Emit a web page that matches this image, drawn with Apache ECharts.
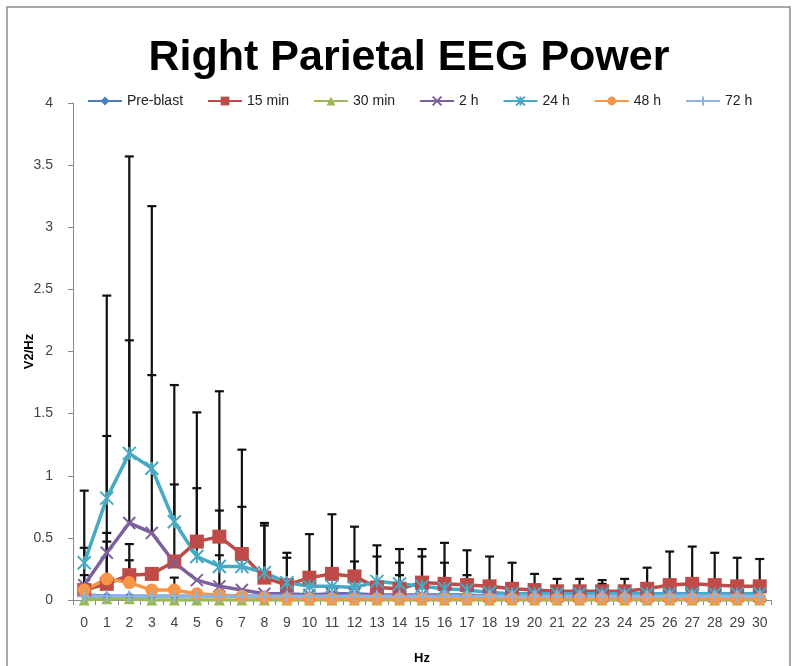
<!DOCTYPE html>
<html>
<head>
<meta charset="utf-8">
<title>Right Parietal EEG Power</title>
<script src="https://cdn.jsdelivr.net/npm/echarts@6/dist/echarts.min.js"></script>
<style>
	html, body { margin: 0; padding: 0; background: #fff; }
	#main { width: 798px; height: 666px; }
</style>
</head>
<body>
<div id="main"></div>
<script>
var hz = ['0', '1', '2', '3', '4', '5', '6', '7', '8', '9', '10', '11', '12', '13', '14', '15',
	'16', '17', '18', '19', '20', '21', '22', '23', '24', '25', '26', '27', '28', '29', '30'];
var yTicks = [0, 0.5, 1, 1.5, 2, 2.5, 3, 3.5, 4];

// mean values per group
var preBlast = [0.04, 0.03, 0.03, 0.03, 0.03, 0.03, 0.03, 0.03, 0.03, 0.03, 0.03, 0.03, 0.03, 0.03, 0.03, 0.03,
	0.03, 0.03, 0.03, 0.03, 0.03, 0.03, 0.03, 0.03, 0.03, 0.03, 0.03, 0.03, 0.03, 0.03, 0.03];
var min15 = [0.08, 0.13, 0.2, 0.21, 0.31, 0.47, 0.51, 0.37, 0.18, 0.12, 0.18, 0.21, 0.19, 0.1, 0.09, 0.14,
	0.13, 0.12, 0.11, 0.09, 0.08, 0.07, 0.07, 0.07, 0.07, 0.09, 0.12, 0.13, 0.12, 0.11, 0.11];
var min30 = [0.0, 0.01, 0.01, 0.0, 0.0, 0.0, 0.0, 0.0, 0.0, 0.0, 0.0, 0.0, 0.0, 0.0, 0.0, 0.0,
	0.0, 0.0, 0.0, 0.0, 0.0, 0.0, 0.0, 0.0, 0.0, 0.0, 0.0, 0.0, 0.0, 0.0, 0.0];
var h2 = [0.12, 0.38, 0.62, 0.54, 0.3, 0.16, 0.11, 0.08, 0.05, 0.05, 0.04, 0.05, 0.05, 0.04, 0.04, 0.04,
	0.04, 0.04, 0.03, 0.03, 0.03, 0.03, 0.03, 0.03, 0.03, 0.03, 0.03, 0.03, 0.03, 0.03, 0.03];
var h24 = [0.3, 0.82, 1.18, 1.06, 0.63, 0.35, 0.27, 0.27, 0.22, 0.14, 0.11, 0.11, 0.1, 0.15, 0.13, 0.11,
	0.09, 0.08, 0.06, 0.05, 0.05, 0.05, 0.05, 0.05, 0.05, 0.05, 0.05, 0.05, 0.05, 0.05, 0.05];
var h48 = [0.08, 0.17, 0.14, 0.08, 0.08, 0.05, 0.04, 0.03, 0.02, 0.01, 0.01, 0.01, 0.01, 0.01, 0.01, 0.01,
	0.01, 0.01, 0.01, 0.01, 0.01, 0.01, 0.01, 0.01, 0.01, 0.01, 0.01, 0.01, 0.01, 0.01, 0.01];
var h72 = [0.03, 0.03, 0.03, 0.03, 0.03, 0.03, 0.03, 0.03, 0.03, 0.03, 0.03, 0.03, 0.03, 0.03, 0.03, 0.03,
	0.03, 0.03, 0.03, 0.03, 0.03, 0.03, 0.03, 0.03, 0.03, 0.03, 0.03, 0.03, 0.03, 0.03, 0.03];

// upper ends of the error bars (null = no bar drawn)
var err15Top = [0.2, 0.47, 0.45, null, null, 1.51, 1.68, 1.21, 0.62, 0.38, 0.53, 0.69, 0.59, 0.44, 0.41, 0.41,
	0.46, 0.4, 0.35, 0.3, 0.21, 0.17, 0.17, 0.16, 0.17, 0.26, 0.39, 0.43, 0.38, 0.34, 0.33];
var err2hTop = [0.42, 1.32, 2.09, 1.81, 0.93, null, 0.36, null, null, null, null, null, null, null, 0.2, null,
	null, null, null, null, null, null, null, null, null, null, null, null, null, null, null];
var err24Top = [0.88, 2.45, 3.57, 3.17, 1.73, 0.9, 0.72, 0.75, 0.6, 0.34, null, null, 0.31, 0.35, 0.3, 0.35,
	0.3, 0.2, null, null, null, null, null, 0.13, null, null, null, null, null, null, null];
var err48Top = [null, 0.54, 0.32, null, 0.18, null, null, null, null, null, null, null, null, null, null, null,
	null, null, null, null, null, null, null, null, null, null, null, null, null, null, null];

var xPath = 'path://M0,0L10,10M10,0L0,10';
var starPath = 'path://M0,0L10,10M10,0L0,10M5,0L5,10';
var plusPath = 'path://M5,0L5,10M0,5L10,5';

function errData(mean, top) {
	var list = [];
	for (var i = 0; i < top.length; i++) {
		if (top[i] !== null) {
			list.push([i, mean[i], top[i]]);
		}
	}
	return list;
}

function renderErr(params, api) {
	var x = api.value(0);
	var p0 = api.coord([x, api.value(1)]);
	var p1 = api.coord([x, api.value(2)]);
	var cw = 4.5;
	return {
		type: 'group',
		children: [
			{ type: 'line', shape: { x1: p0[0], y1: p0[1], x2: p1[0], y2: p1[1] }, style: { stroke: '#111', lineWidth: 2.2 } },
			{ type: 'line', shape: { x1: p1[0] - cw, y1: p1[1], x2: p1[0] + cw, y2: p1[1] }, style: { stroke: '#111', lineWidth: 2.2 } }
		]
	};
}

function errSeries(name, mean, top) {
	return {
		name: name,
		type: 'custom',
		renderItem: renderErr,
		encode: { x: 0, y: [1, 2] },
		data: errData(mean, top),
		z: 1,
		silent: true
	};
}

function lineSeries(name, data, color, symbol, size, stroked) {
	var s = {
		name: name,
		type: 'line',
		data: data,
		symbol: symbol,
		symbolSize: size,
		lineStyle: { color: color, width: 3.5 },
		itemStyle: { color: color },
		z: 3
	};
	if (stroked) {
		s.itemStyle.borderColor = color;
		s.itemStyle.borderWidth = 2;
	}
	return s;
}

var chart = echarts.init(document.getElementById('main'), null, { renderer: 'canvas' });

var option = {
	animation: false,
	backgroundColor: '#fff',
	textStyle: { fontFamily: 'Liberation Sans' },
	title: {
		text: 'Right Parietal EEG Power',
		left: 404,
		textAlign: 'center',
		top: 32,
		textStyle: {
			fontFamily: 'Liberation Sans',
			fontWeight: 'bold',
			fontSize: 43,
			color: '#000'
		}
	},
	graphic: [
		{
			type: 'rect',
			shape: { x: 7, y: 7, width: 783, height: 680 },
			style: { fill: null, stroke: '#8c8c8c', lineWidth: 1.5 },
			silent: true
		}
	],
	legend: {
		top: 89,
		left: 82,
		itemWidth: 34,
		itemHeight: 11,
		itemGap: 24,
		textStyle: { fontSize: 14, color: '#222' },
		data: ['Pre-blast', '15 min', '30 min', '2 h', '24 h', '48 h', '72 h']
	},
	grid: {
		left: 73,
		right: 27,
		top: 103,
		bottom: 66,
		containLabel: false,
		outerBoundsMode: 'none'
	},
	xAxis: {
		type: 'category',
		data: hz,
		name: 'Hz',
		nameLocation: 'middle',
		nameGap: 52,
		nameMoveOverlap: false,
		nameTextStyle: { fontWeight: 'bold', fontSize: 13, color: '#000' },
		axisLine: { lineStyle: { color: '#888' } },
		axisTick: { show: true, length: 5, lineStyle: { color: '#888' } },
		axisLabel: { fontSize: 14, color: '#444', margin: 16, interval: 0 }
	},
	yAxis: {
		type: 'value',
		min: yTicks[0],
		max: yTicks[yTicks.length - 1],
		interval: 0.5,
		name: 'V2/Hz',
		nameLocation: 'middle',
		nameGap: 37,
		nameMoveOverlap: false,
		nameTextStyle: { fontWeight: 'bold', fontSize: 13, color: '#000' },
		axisLine: { show: true, lineStyle: { color: '#888' } },
		axisTick: { show: true, length: 5, lineStyle: { color: '#888' } },
		splitLine: { show: false },
		axisLabel: { fontSize: 14, color: '#444', margin: 20 }
	},
	series: [
		errSeries('err24', h24, err24Top),
		errSeries('err2h', h2, err2hTop),
		errSeries('err15', min15, err15Top),
		errSeries('err48', h48, err48Top),
		lineSeries('Pre-blast', preBlast, '#4a7ebb', 'diamond', 10, false),
		lineSeries('15 min', min15, '#be4b48', 'rect', 14, false),
		lineSeries('30 min', min30, '#98b954', 'triangle', 11, false),
		lineSeries('2 h', h2, '#7d60a0', xPath, 12, true),
		lineSeries('24 h', h24, '#46aac5', starPath, 13, true),
		lineSeries('48 h', h48, '#f79646', 'circle', 13, false),
		lineSeries('72 h', h72, '#8eb4e3', plusPath, 12, true)
	]
};

chart.setOption(option);
</script>
</body>
</html>
